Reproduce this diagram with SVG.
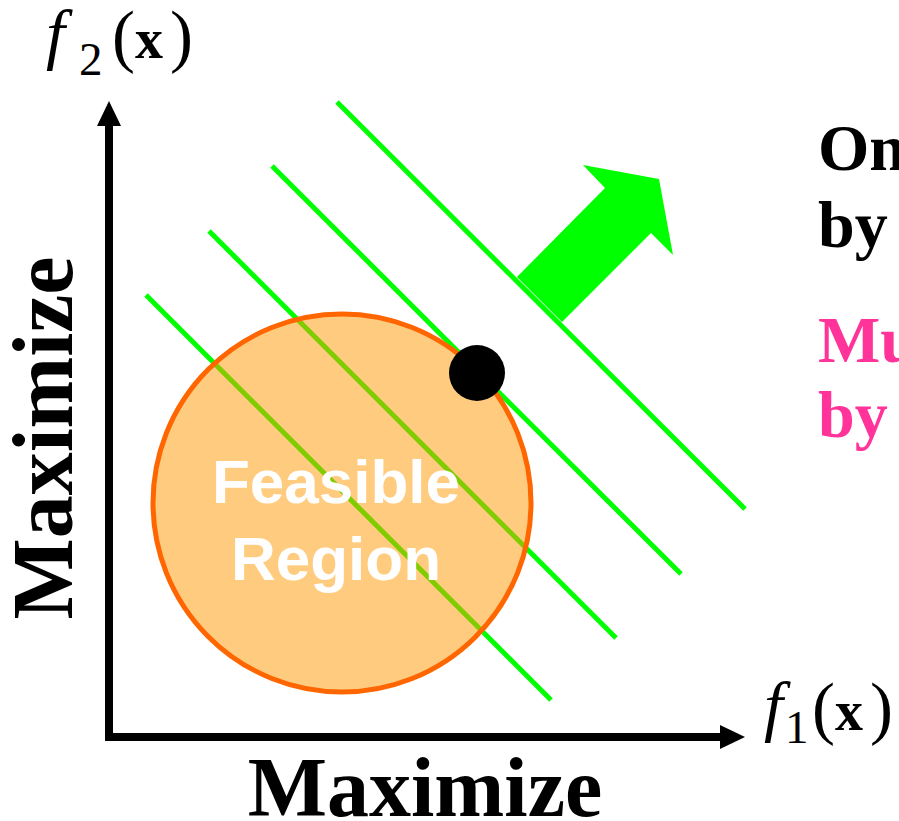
<svg xmlns="http://www.w3.org/2000/svg" width="899" height="821" viewBox="0 0 899 821">
<style>
.gl{stroke:#00FF00;stroke-width:5;fill:none}
.ax{stroke:#000;stroke-width:8;fill:none}
.tm{font-family:"Liberation Serif","Times New Roman",serif}
.big{font-family:"Liberation Serif","Times New Roman",serif;font-weight:bold;fill:#000}
.side{font-family:"Liberation Serif","Times New Roman",serif;font-weight:bold;font-size:66px}
.fr{font-family:"Liberation Sans",Arial,sans-serif;font-weight:bold;font-size:62px;fill:#fff;text-anchor:middle}
</style>
<rect width="899" height="821" fill="#fff"/>
<g id="connectors">
<line class="gl" x1="146" y1="295" x2="551" y2="700"/>
<line class="gl" x1="209" y1="231" x2="616" y2="638"/>
<line class="gl" x1="272" y1="166" x2="681" y2="574"/>
<line class="gl" x1="337" y1="102" x2="745" y2="509"/>
<polygon id="bigArrow" points="517,277 605,188 583,165 659,179 673,255 651,233 562,322" fill="#00FF00"/>
</g>
<g id="region">
<circle cx="342" cy="503" r="189" fill="#FF9900" fill-opacity="0.5" stroke="#FF6600" stroke-width="5"/>
<text class="fr" x="336" y="503">Feasible</text>
<text class="fr" x="336" y="580">Region</text>
</g>
<g id="optimum">
<circle cx="477" cy="373" r="28" fill="#000"/>
</g>
<g id="axes">
<polyline class="ax" points="109,126 109,737 721,737"/>
<polygon points="109,101 97,126 121,126" fill="#000"/>
<polygon points="745,737 720,725 720,749" fill="#000"/>
</g>
<g id="f2label" class="tm" fill="#000">
<text x="46" y="57" font-size="68" font-style="italic">f</text>
<text x="79" y="75" font-size="47">2</text>
<text x="112" y="59" font-size="69">(</text>
<text x="135" y="58" font-size="56" font-weight="bold">x</text>
<text x="170" y="59" font-size="69">)</text>
</g>
<g id="f1label" class="tm" fill="#000">
<text x="764" y="729" font-size="68" font-style="italic">f</text>
<text x="785" y="743" font-size="47">1</text>
<text x="812" y="731" font-size="69">(</text>
<text x="835" y="730" font-size="56" font-weight="bold">x</text>
<text x="870" y="731" font-size="69">)</text>
</g>
<g id="xlabel">
<text class="big" x="425" y="816" font-size="84" text-anchor="middle">Maximize</text>
</g>
<g id="ylabel">
<text class="big" transform="translate(72,438) rotate(-90)" x="0" y="0" font-size="86" text-anchor="middle">Maximize</text>
</g>
<g id="sidetext">
<text class="side" x="818" y="170" fill="#000">On</text>
<text class="side" x="818" y="247" fill="#000">by</text>
<text class="side" x="818" y="362" fill="#FF3399">Mu</text>
<text class="side" x="818" y="437" fill="#FF3399">by</text>
</g>
</svg>
